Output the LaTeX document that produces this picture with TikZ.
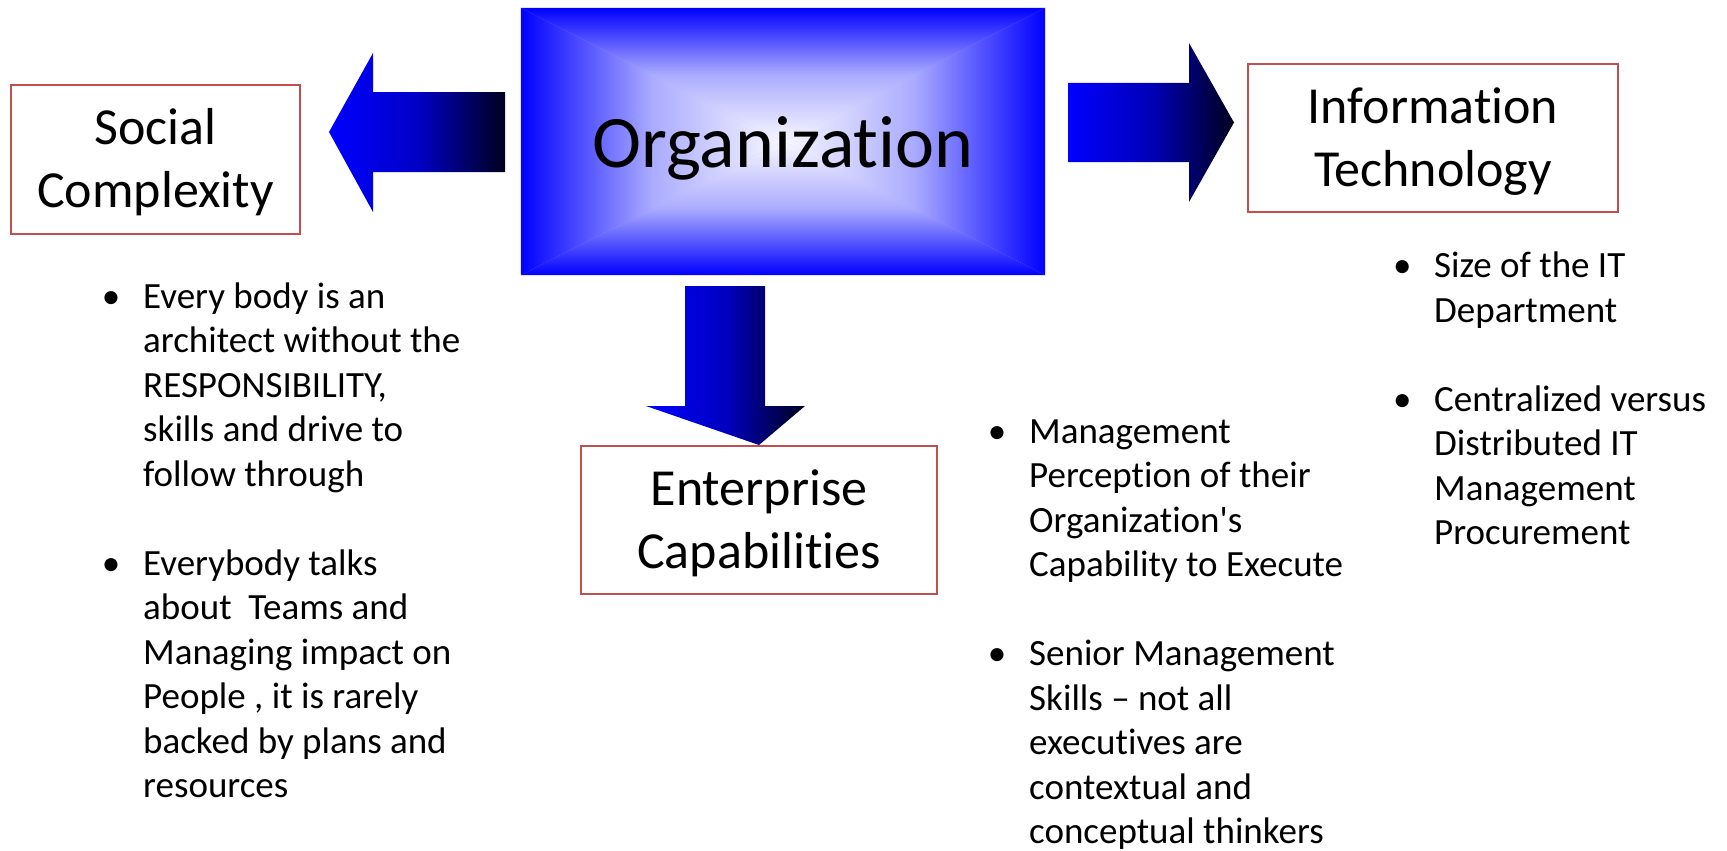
\documentclass[tikz,border=0pt]{standalone}
\usepackage{fontspec}
\setmainfont{Carlito}[Ligatures={NoCommon}]
\definecolor{boxred}{RGB}{192,80,77}
\definecolor{deepnavy}{RGB}{0,0,30}
\colorlet{orgc}{blue!3}
\colorlet{orgmid}{blue!33}
\newcommand\nti{t\kern0pt i}
\newcommand\bitem[1]{\noindent\hangindent=32pt\hangafter=1\makebox[32pt][l]{\makebox[0pt][c]{\textbullet}}#1\par}
\newcommand\bcol[1]{\begin{minipage}[t]{440pt}\raggedright\let\\\newline\fontsize{37}{44.5}\selectfont\setlength\parskip{0pt}#1\end{minipage}}
\newcommand\gap{\vspace{44.5pt}}
\begin{document}
\begin{tikzpicture}[x=1pt,y=-1pt,
  box/.style={draw=boxred, line width=2pt, fill=white, align=center, inner sep=0pt,
              font=\fontsize{52}{63}\selectfont},
  bullets/.style={anchor=base west, inner sep=0pt},
  larrow/.style={left color=blue, right color=deepnavy, middle color=blue!78!black},
  rarrow/.style={left color=blue, right color=deepnavy, middle color=blue!72!black},
  darrow/.style={left color=blue, right color=deepnavy, middle color=blue!75!black}]
\useasboundingbox (0,0) rectangle (1727,851);

% central box
\node[minimum width=524pt, minimum height=267pt, inner sep=0pt] (org) at (783,141.5) {};
\fill[orgmid] (org.north west) rectangle (org.south east);
\path[top color=blue, bottom color=orgc, middle color=orgmid] (org.north west) -- (org.north east) -- (org.center) -- cycle;
\path[top color=orgc, bottom color=blue, middle color=orgmid] (org.south west) -- (org.south east) -- (org.center) -- cycle;
\path[left color=blue, right color=orgc, middle color=orgmid] (org.north west) -- (org.south west) -- (org.center) -- cycle;
\path[left color=orgc, right color=blue, middle color=orgmid] (org.north east) -- (org.south east) -- (org.center) -- cycle;
\node[minimum width=524pt, minimum height=267pt, inner sep=0pt, text height=65pt, text depth=14pt,
      font=\fontsize{74}{88}\selectfont] (orgtext) at (org.center) {Organiza\nti on};

% boxes
\node[box, minimum width=289pt, minimum height=149pt] (soc) at (155.5,159.5)
  {\rule{0pt}{42pt}Social\\Complexity\rule[-9pt]{0pt}{9pt}};
\node[box, minimum width=370pt, minimum height=148pt] (it) at (1433,138)
  {\rule{0pt}{42pt}Informa\nti on\\Technology\rule[-9pt]{0pt}{9pt}};
\node[box, minimum width=356pt, minimum height=148pt] (ent) at (759,520)
  {\rule{0pt}{42pt}Enterprise\\Capabili\nti es\rule[-9pt]{0pt}{9pt}};

% block arrows
\path[larrow] (329,132) -- (373,53) -- (373,92) -- (505,92) -- (505,172) -- (373,172) -- (373,212) -- cycle;
\path[rarrow] (1068,83) -- (1189,83) -- (1189,43) -- (1234,122.5) -- (1189,202) -- (1189,162) -- (1068,162) -- cycle;
\path[darrow] (685,286) -- (765,286) -- (765,406) -- (805,406) -- (ent.north) -- (646,406) -- (685,406) -- cycle;

% bullet lists
\node[bullets] (left) at (111,308.4) {\bcol{%
\bitem{Every body is an\\architect without the\\RESPONSIBILITY,\\skills and drive to\\follow through}%
\gap
\bitem{Everybody talks\\about~ Teams and\\Managing impact on\\People , it is rarely\\backed by plans and\\resources}}};
\node[bullets] (mid) at (997,443) {\bcol{%
\bitem{Management\\Percep\nti on of their\\Organiza\nti on\textquotesingle s\\Capability to Execute}%
\gap
\bitem{Senior Management\\Skills – not all\\execu\nti ves are\\contextual and\\conceptual thinkers}}};
\node[bullets] (right) at (1402,277.5) {\bcol{%
\bitem{Size of the IT\\Department}%
\gap
\bitem{Centralized versus\\Distributed IT\\Management\\Procurement}}};
\end{tikzpicture}
\end{document}
